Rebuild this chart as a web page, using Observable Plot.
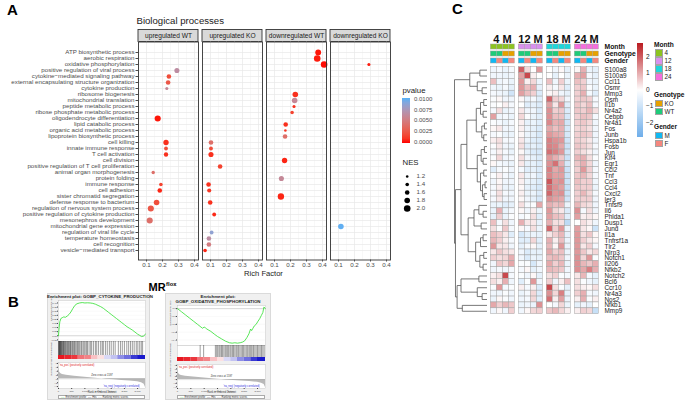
<!DOCTYPE html>
<html><head><meta charset="utf-8">
<script src="https://cdn.jsdelivr.net/npm/d3@7"></script>
<script src="https://cdn.jsdelivr.net/npm/@observablehq/plot@0.6"></script>
<style>
body{margin:0;background:#fff;font-family:'Liberation Sans',Arial,Helvetica,sans-serif;}
#root{position:relative;width:685px;height:402px;overflow:hidden;background:#fff;}
.abs{position:absolute;line-height:1;white-space:nowrap;}
.abs svg{display:block;}
</style></head><body><div id="root"></div><script>
// ================= DATA =================
// ---- Panel A: GO biological processes (facets, terms, points) ----
const facetGroups = ["upregulated WT","upregulated KO","downregulated WT","downregulated KO"];
const processTerms = ["ATP biosynthetic process","aerobic respiration","oxidative phosphorylation","positive regulation of viral process","cytokine−mediated signaling pathway","external encapsulating structure organization","cytokine production","ribosome biogenesis","mitochondrial translation","peptide metabolic process","ribose phosphate metabolic process","oligodendrocyte differentiation","lipid catabolic process","organic acid metabolic process","lipoprotein biosynthetic process","cell killing","innate immune response","T cell activation","cell division","positive regulation of T cell proliferation","animal organ morphogenesis","protein folding","immune response","cell adhesion","sister chromatid segregation","defense response to bacterium","regulation of nervous system process","positive regulation of cytokine production","mesonephros development","mitochondrial gene expression","regulation of viral life cycle","temperature homeostasis","cell recognition","vesicle−mediated transport"];
const richTicks = [0.1, 0.2, 0.3, 0.4];
const richMinorTicks = [0.05, 0.15, 0.25, 0.35];

const upWT_terms = ["positive regulation of viral process","cytokine−mediated signaling pathway","external encapsulating structure organization","cytokine production","oligodendrocyte differentiation","cell killing","innate immune response","T cell activation","animal organ morphogenesis","immune response","cell adhesion","defense response to bacterium","regulation of nervous system process","mesonephros development"];
const upWT_rich = [0.29,0.24,0.235,0.227,0.17,0.222,0.222,0.222,0.142,0.19,0.183,0.163,0.127,0.12];
const upWT_nes  = [1.7,1.6,1.6,1.3,1.9,1.75,1.45,1.55,1.35,1.4,1.6,1.8,1.9,1.9];
const upWT_p    = [0.0065,0.002,0.0025,0.006,0.0002,0.0008,0.002,0.0008,0.004,0.0015,0.0005,0.002,0.0025,0.004];

const upKO_terms = ["cell killing","innate immune response","T cell activation","positive regulation of T cell proliferation","immune response","cell adhesion","defense response to bacterium","positive regulation of cytokine production","regulation of viral life cycle","temperature homeostasis","cell recognition","vesicle−mediated transport"];
const upKO_rich = [0.103,0.103,0.103,0.16,0.088,0.092,0.098,0.123,0.107,0.09,0.09,0.066];
const upKO_nes  = [1.6,1.45,1.7,1.6,1.6,1.5,1.6,1.45,1.45,1.6,1.6,1.4];
const upKO_p    = [0.004,0.002,0.0008,0.0015,0.0008,0.001,0.0008,0.0006,0.0085,0.0065,0.005,0.0005];

const downWT_terms = ["ATP biosynthetic process","aerobic respiration","oxidative phosphorylation","ribosome biogenesis","mitochondrial translation","peptide metabolic process","ribose phosphate metabolic process","lipid catabolic process","organic acid metabolic process","lipoprotein biosynthetic process","cell division","protein folding","sister chromatid segregation"];
const downWT_rich = [0.373,0.367,0.41,0.23,0.226,0.222,0.21,0.17,0.168,0.166,0.163,0.143,0.14];
const downWT_nes  = [1.85,2.0,2.0,1.8,1.8,1.3,1.4,1.6,1.15,1.6,1.75,1.7,1.95];
const downWT_p    = [0.0002,0.0003,0.0001,0.0008,0.006,0.0008,0.0015,0.0008,0.001,0.004,0.0005,0.006,0.0005];

const downKO_terms = ["oxidative phosphorylation","mitochondrial gene expression"];
const downKO_rich = [0.29,0.115];
const downKO_nes  = [1.3,1.8];
const downKO_p    = [0.0003,0.0098];

const pLegendTicks = [0.01, 0.0075, 0.005, 0.0025, 0];
const nesLegendValues = [1.2, 1.4, 1.6, 1.8, 2.0];

// ---- Panel B: GSEA enrichment plots ----
const gseaRankMax = 3300;
const rankTicks = [0, 500, 1000, 1500, 2000, 2500, 3000];
const cytoRank = [0,25,50,90,140,200,260,330,400,470,540,620,700,800,900,1000,1100,1200,1300,1400,1500,1600,1700,1800,1900,2000,2100,2200,2300,2400,2500,2600,2700,2800,2900,3000,3080,3150,3220,3300];
const cytoES   = [0,0.10,0.17,0.21,0.22,0.23,0.225,0.24,0.26,0.29,0.33,0.37,0.39,0.40,0.405,0.40,0.402,0.40,0.395,0.385,0.37,0.355,0.335,0.31,0.285,0.26,0.235,0.21,0.185,0.16,0.135,0.11,0.09,0.07,0.045,0.02,0.005,-0.01,-0.005,0.02];
const cytoHits = [5,18,30,45,60,72,90,110,125,150,175,190,215,240,260,290,320,350,370,400,430,455,480,520,545,580,610,640,690,720,760,800,850,880,930,970,1010,1060,1100,1160,1220,1260,1330,1400,1450,1520,1600,1660,1700,1780,1850,1930,2000,2080,2150,2270,2350,2420,2500,2590,2660,2730,2800,2870,2950,3010,3080,3140,3190];
const cytoEsTicks = [-0.05,0,0.05,0.1,0.15,0.2,0.25,0.3,0.35,0.4];
const oxRank = [0,150,300,450,600,750,880,940,1000,1050,1100,1250,1400,1500,1650,1800,1950,2050,2150,2250,2350,2450,2520,2600,2680,2740,2780,2830,2880,2950,3020,3080,3140,3200,3240,3300];
const oxES   = [0,-0.04,-0.08,-0.12,-0.16,-0.20,-0.235,-0.25,-0.235,-0.245,-0.26,-0.29,-0.33,-0.355,-0.385,-0.415,-0.435,-0.44,-0.435,-0.44,-0.435,-0.425,-0.41,-0.37,-0.32,-0.26,-0.28,-0.25,-0.22,-0.2,-0.16,-0.13,-0.09,-0.05,0.02,0.0];
const oxHits = [850,980,1420,1470,1510,1560,1600,1650,1690,1740,1790,1830,1880,1920,1970,2010,2060,2100,2150,2200,2240,2290,2340,2390,2440,2480,2530,2580,2630,2680,2720,2760,2800,2850,2900,2950,3000,3050,3100,3150,3200,3250];
const oxEsTicks = [0,-0.1,-0.2,-0.3,-0.4];
const metricRank  = [0,15,40,80,150,300,600,900,1200,1500,1650,1800,2100,2400,2700,3000,3150,3250,3300];
const metricValue = [7.5,5,3.6,2.8,2.3,1.9,1.4,1.0,0.6,0.2,0,-0.2,-0.5,-0.8,-1.1,-1.5,-2.0,-2.8,-4.5];
const barStart  = [0,250,500,750,1000,1250,1500,1750,2000,2250,2500,2750,3000];
const barMetric = [3,2.8,2.6,1.8,1.6,0.8,0.4,-0.5,-0.8,-1.5,-1.9,-2.6,-3];

// ---- Panel C: heatmap ----
const months = ["4","12","18","24"];
const sampleGenotype = ["WT","WT","KO","KO"];
const sampleGender = ["M","F","M","F"];
const annotRows = ["Month","Genotype","Gender"];
const genes = ["S100a8","S100a9","Ccl11","Osmr","Mmp3","Osm","Il1b","Nr4a2","Cebpb","Nr4a1","Fos","Junb","Hspa1b","Fosb","Jun","Klf4","Egr1","Ccl2","Tnf","Ccl3","Ccl4","Cxcl2","Ier3","Tnfsf9","Il6","Phlda1","Dusp1","Jund","Il1a","Tnfrsf1a","Tlr2","Nlrp3","Notch1","Il206","Nfkb2","Notch2","Bcl6","Ccr10","Nr4a3","Nos2","Nfkb1","Mmp9"];
const expr4M = [[-0.3,-0.2,-0.4,-0.2],[-0.3,-0.3,-0.4,-0.3],[0.8,-0.3,-0.2,-0.4],[-0.3,-0.4,-0.2,-0.5],[-0.2,-0.3,-0.4,-0.9],[-0.1,0.1,-0.3,-0.3],[-0.1,0.0,0.2,-0.2],[-0.2,0.4,-0.4,-0.3],[1.2,-0.3,-0.2,-0.4],[-0.1,-0.2,-0.4,-0.2],[0.1,0.3,-0.3,-0.3],[-0.2,-0.1,-0.4,-0.4],[0.2,0.4,-0.2,-0.2],[-0.1,0.3,-0.3,-0.4],[-0.2,0.2,-0.2,-0.4],[-0.1,0.5,-0.3,-0.2],[0.1,-0.2,-0.3,-0.4],[-0.6,-0.2,-0.1,-0.3],[-0.1,0.2,-0.2,-0.4],[-0.3,0.1,-0.3,-0.3],[-0.2,0.2,-0.4,-0.4],[-0.2,0.4,-0.2,-0.3],[-0.2,0.3,-0.3,-0.3],[-0.4,-0.4,-0.6,-0.5],[-0.4,1.0,-0.4,-0.2],[-0.5,0.6,-0.4,-0.1],[0.8,-0.2,0.4,-0.3],[0.4,-0.1,0.7,-0.2],[0.8,0.6,0.3,-0.6],[0.9,0.6,0.2,-0.2],[1.3,0.3,0.3,-0.3],[0.3,0.7,0.4,0.3],[0.6,0.4,0.5,1.0],[-0.3,0.7,0.5,1.1],[-0.3,-0.2,-0.3,-0.2],[0.2,0.4,2.3,-0.2],[0.4,0.2,1.0,-0.3],[-0.1,1.3,-0.2,-0.1],[-0.3,-0.3,-0.1,-0.3],[-0.4,0.1,-0.1,-0.3],[1.1,0.6,0.9,0.7],[-0.3,0.1,-0.3,0.6]];
const expr12M = [[2.0,0.5,0.0,1.3],[1.2,2.3,0.2,0.0],[1.3,0.2,0.5,-0.4],[1.3,0.8,1.0,-0.5],[1.2,0.8,0.6,-0.7],[0.1,-0.4,-0.2,-0.6],[0.0,-0.6,-0.5,-0.7],[0.3,-0.3,-0.3,-0.7],[0.5,-0.1,-0.4,-0.6],[0.2,-0.5,-0.4,-0.6],[0.2,-0.4,-0.5,-0.7],[0.1,-0.4,-0.5,-0.8],[0.3,-0.4,-0.6,-0.7],[0.4,-0.6,-0.5,-0.7],[0.1,-0.5,-0.7,-0.8],[0.4,-0.3,-0.5,-0.7],[0.3,-0.5,-0.5,-0.7],[-0.2,-0.6,-0.5,-0.7],[0.3,-0.4,-0.3,-0.7],[0.2,-0.4,-0.5,-0.7],[0.1,-0.5,-0.6,-0.8],[0.2,-0.4,-0.4,-0.7],[0.1,-0.3,-0.5,-0.8],[0.4,-0.2,-0.1,1.1],[0.1,-0.3,0.2,-0.4],[-0.2,-0.1,0.4,-0.6],[1.0,0.3,0.3,-0.5],[0.1,-0.2,0.4,-0.4],[-0.8,-0.5,-0.4,-0.5],[-0.6,-0.6,0.5,-0.6],[-0.5,-0.2,0.1,-0.5],[-0.3,-0.7,-0.5,-0.5],[-0.3,-0.7,-0.4,-0.5],[-0.1,-0.1,-0.8,-0.3],[-0.2,0.1,-0.5,-0.3],[-0.1,-0.3,0.1,-0.5],[-0.6,-0.1,1.3,-0.3],[0.2,-0.2,0.2,-0.7],[-0.4,-0.2,0.5,-0.7],[-0.3,-0.2,0.5,-0.6],[-0.4,-0.3,-0.4,1.4],[-0.3,0.1,0.5,0.6]];
const expr18M = [[0.0,-0.3,0.1,-0.5],[0.0,-0.5,0.0,-0.4],[0.8,-0.3,0.6,-0.4],[0.2,-0.2,0.3,-0.6],[0.1,0.2,-0.3,-0.5],[1.9,0.6,0.5,-0.3],[1.2,0.3,1.3,-0.6],[1.4,0.6,0.7,-0.7],[1.4,0.8,0.8,-0.8],[1.5,1.0,1.1,-0.9],[1.1,0.8,1.0,-0.8],[1.3,1.1,1.0,-0.8],[1.6,1.4,1.3,-0.9],[1.6,1.5,1.1,-1.0],[1.8,1.6,1.3,-0.9],[1.3,1.0,0.7,-1.0],[1.4,1.8,1.0,-0.8],[1.6,1.1,1.3,-1.0],[1.5,1.2,1.2,-1.0],[2.1,1.3,1.4,-1.0],[1.8,1.4,1.2,-1.1],[1.9,1.3,1.4,-1.0],[1.4,1.2,1.1,-0.9],[1.0,0.8,0.9,-0.4],[1.3,0.5,0.3,-0.7],[1.2,0.8,0.7,-0.6],[1.0,0.4,0.4,-1.3],[1.9,0.6,1.3,-0.4],[0.3,0.6,0.9,-0.5],[1.0,0.2,0.8,-0.4],[0.9,0.1,1.3,-0.4],[1.1,0.6,0.8,-0.4],[0.8,0.9,0.7,-0.3],[1.1,0.6,0.9,-0.4],[0.9,0.8,0.7,-0.3],[0.4,0.6,-0.1,-0.2],[0.6,-0.3,0.2,0.8],[2.3,0.4,-0.1,-0.5],[1.4,0.5,1.6,-0.5],[1.8,0.2,1.2,-0.4],[0.0,-0.2,0.5,-0.4],[0.7,0.9,0.5,0.2]];
const expr24M = [[0.1,1.0,-0.4,-0.5],[1.0,1.2,-0.2,-0.5],[0.8,0.6,-0.3,-0.4],[0.6,0.7,-0.1,-0.4],[0.6,1.0,-0.2,-0.6],[0.6,0.7,0.6,-0.2],[0.7,0.5,0.8,-0.2],[0.7,0.6,0.9,0.4],[0.6,0.8,0.7,-0.2],[0.6,0.7,0.5,-0.3],[0.5,0.6,0.4,-0.3],[0.6,0.7,0.6,-0.3],[0.6,0.5,0.3,-0.3],[0.7,0.6,0.4,-0.2],[0.6,0.4,0.2,-0.3],[0.9,1.0,0.4,-0.1],[0.7,1.0,0.5,-0.3],[0.6,1.3,0.6,-0.2],[0.7,0.9,0.5,-0.2],[0.8,0.6,0.6,-0.3],[0.7,0.6,0.6,-0.4],[0.6,0.9,0.5,-0.2],[0.6,0.6,0.6,-0.3],[0.9,0.5,0.4,-0.3],[1.4,-0.2,0.4,-0.3],[1.2,0.2,0.3,0.1],[0.0,0.4,0.2,-0.3],[1.2,0.3,0.1,-1.0],[1.3,0.4,0.7,0.1],[1.3,0.6,0.3,0.1],[1.3,0.3,0.6,-0.2],[1.3,0.7,0.3,0.5],[1.4,0.5,1.3,-0.1],[1.4,0.9,0.7,1.0],[1.4,1.1,1.6,1.0],[0.3,0.9,-0.2,-0.5],[0.4,-0.1,-0.3,-0.5],[0.4,0.2,0.1,0.4],[0.6,1.0,-0.2,-0.3],[0.2,1.0,-0.1,0.2],[-0.5,-0.3,-0.5,0.0],[0.2,0.6,0.5,-1.1]];
// dendrogram: [mergeHeight, left, right]
const geneTree = [1.0,
  [0.53,[0.22,"S100a8","S100a9"],[0.3,"Ccl11",[0.15,"Osmr","Mmp3"]]],
  [0.97,
    [0.8,
      [0.62,
        [0.33,[0.2,[0.1,"Osm","Il1b"],[0.12,"Nr4a2","Cebpb"]],[0.16,[0.08,"Nr4a1","Fos"],[0.1,"Junb","Hspa1b"]]],
        [0.3,[0.18,[0.08,"Fosb","Jun"],[0.12,"Klf4","Egr1"]],[0.2,[0.1,"Ccl2","Tnf"],[0.14,[0.06,"Ccl3","Ccl4"],[0.09,"Cxcl2","Ier3"]]]]],
      [0.58,
        [0.4,[0.25,"Tnfsf9",[0.12,"Il6","Phlda1"]],[0.18,"Dusp1","Jund"]],
        [0.35,[0.2,[0.12,"Il1a","Tnfrsf1a"],"Tlr2"],[0.22,[0.1,"Nlrp3","Notch1"],[0.12,"Il206","Nfkb2"]]]]],
    [0.92,
      [0.8,[0.25,"Notch2","Bcl6"],[0.3,"Ccr10",[0.15,"Nr4a3","Nos2"]]],
      [0.76,"Nfkb1","Mmp9"]]]];
const heatLegendTicks = [2, 1, 0, -1, -2];

// ================= STYLE / HELPERS =================
const FONT = "'Liberation Sans', Arial, Helvetica, sans-serif";
const baseStyle = {background: "transparent", overflow: "visible", fontFamily: FONT, maxWidth: "none"};
const root = document.getElementById("root");
function place(node, left, top) {
  const d = document.createElement("div");
  d.className = "abs"; d.style.left = left + "px"; d.style.top = top + "px";
  d.append(node); root.append(d); return d;
}
function label(text, left, top, css) {
  const d = document.createElement("div");
  d.className = "abs"; d.textContent = text;
  d.style.left = left + "px"; d.style.top = top + "px";
  Object.assign(d.style, css || {});
  root.append(d); return d;
}
function box(left, top, w, h, css) {
  const d = document.createElement("div");
  d.className = "abs";
  Object.assign(d.style, {left: left + "px", top: top + "px", width: w + "px", height: h + "px", boxSizing: "border-box"}, css || {});
  root.append(d); return d;
}

// ================= PANEL A =================
const dots = [];
function addFacet(group, terms, rich, nes, p) {
  terms.forEach((t, i) => dots.push({group, term: t, rich: rich[i], nes: nes[i], p: p[i]}));
}
addFacet(facetGroups[0], upWT_terms, upWT_rich, upWT_nes, upWT_p);
addFacet(facetGroups[1], upKO_terms, upKO_rich, upKO_nes, upKO_p);
addFacet(facetGroups[2], downWT_terms, downWT_rich, downWT_nes, downWT_p);
addFacet(facetGroups[3], downKO_terms, downKO_rich, downKO_nes, downKO_p);

const pLow = "#FF0000", pHigh = "#56B1F7";
const rScale = {type: "linear", domain: [1.2, 2.0], range: [1.3, 3.3], clamp: true};

label("A", 7, 2, {fontSize: "15px", fontWeight: "bold"});
label("Biological processes", 136.5, 15.5, {fontSize: "9.6px", color: "#1a1a1a"});

const stripPlot = Plot.plot({
  width: 400, height: 41.5, marginTop: 29.5, marginBottom: 0, marginLeft: 137, marginRight: 10,
  style: baseStyle,
  x: {type: "band", domain: facetGroups, paddingInner: 0.0625, paddingOuter: 0, axis: null},
  marks: [
    Plot.cell(facetGroups, {x: d => d, fill: "#D9D9D9", stroke: "#333", strokeWidth: 0.9}),
    Plot.text(facetGroups, {x: d => d, text: d => d, fontSize: 6.6, fill: "#1A1A1A"})
  ]
});
place(stripPlot, 0, 0);

const plotA = Plot.plot({
  width: 400, height: 280, marginTop: 41.5, marginBottom: 20.5, marginLeft: 137, marginRight: 10,
  style: baseStyle,
  fx: {domain: facetGroups, paddingInner: 0.0625, paddingOuter: 0, axis: null, label: null},
  x: {domain: [0.05, 0.425]},
  y: {domain: processTerms, padding: 0},
  r: rScale,
  color: {type: "linear", domain: [0, 0.01], range: [pLow, pHigh], interpolate: d3.interpolateLab},
  marks: [
    Plot.ruleX(richMinorTicks, {stroke: "#F3F3F3", strokeWidth: 0.6}),
    Plot.ruleX(richTicks, {stroke: "#E8E8E8", strokeWidth: 0.7}),
    Plot.ruleY(processTerms, {y: d => d, stroke: "#E8E8E8", strokeWidth: 0.7}),
    Plot.dot(dots, {fx: "group", x: "rich", y: "term", r: "nes", fill: "p"}),
    Plot.frame({stroke: "#333", strokeWidth: 0.9}),
    Plot.axisX({ticks: richTicks, tickFormat: d3.format(".1f"), tickSize: 2, tickPadding: 1, fontSize: 6.2, color: "#4D4D4D", label: null}),
    Plot.axisY({tickSize: 2.5, tickPadding: 1.5, fontSize: 6.2, color: "#4D4D4D", label: null})
  ]
});
place(plotA, 0, 0);
label("Rich Factor", 213.5, 269.5, {width: "100px", textAlign: "center", fontSize: "7.6px", color: "#1a1a1a"});

// legend: pvalue colourbar
label("pvalue", 402.5, 86.5, {fontSize: "7.8px", color: "#1a1a1a"});
{
  const interp = d3.interpolateLab(pLow, pHigh);
  const stops = d3.range(0, 1.0001, 0.1).map(t => `${interp(1 - t)} ${(t * 100).toFixed(0)}%`).join(",");
  box(402, 97.7, 8, 45, {background: `linear-gradient(to bottom, ${stops})`});
  pLegendTicks.forEach(v => {
    const y = 142 - v / 0.01 * 43.3;
    label(d3.format(".4f")(v), 414, y - 3, {fontSize: "6px", color: "#4D4D4D"});
  });
}
label("NES", 402.5, 159, {fontSize: "7.8px", color: "#1a1a1a"});
const nesLegend = Plot.plot({
  width: 40, height: 48, marginTop: 2.3, marginBottom: 1.6, marginLeft: 0, marginRight: 0,
  style: baseStyle,
  y: {type: "band", domain: nesLegendValues, padding: 0, axis: null},
  r: rScale,
  marks: [
    Plot.dot(nesLegendValues, {y: d => d, r: d => d, fill: "black", frameAnchor: "left", dx: 6.7}),
    Plot.text(nesLegendValues, {y: d => d, text: d => d.toFixed(1), frameAnchor: "left", dx: 16, textAnchor: "start", fontSize: 6.2, fill: "#4D4D4D"})
  ]
});
place(nesLegend, 400, 168);

// ================= PANEL B =================
label("B", 8, 294, {fontSize: "15px", fontWeight: "bold"});
{
  const d = label("MR", 148.5, 281.5, {fontSize: "11px", fontWeight: "bold"});
  const s = document.createElement("span");
  s.textContent = "flox";
  Object.assign(s.style, {fontSize: "5.8px", verticalAlign: "5px", marginLeft: "0.5px"});
  d.append(s);
}
const barColor = {type: "linear", domain: [-3, 0, 3], range: ["#1A1ACC", "#FFFFFF", "#E81820"]};
const barBins = barStart.map((s, i) => ({x1: s, x2: i + 1 < barStart.length ? barStart[i + 1] : gseaRankMax, m: barMetric[i]}));
const metricData = metricRank.map((r, i) => ({r, m: metricValue[i]}));

function drawGsea(c) {
  box(c.L, c.T, c.W, c.H, {background: "#F0F0F0", border: "0.5px solid #DADADA"});
  c.title.forEach((t, k) => label(t, c.L, c.titleY[k], {width: c.W + "px", textAlign: "center", fontSize: "4.4px", fontWeight: "bold", color: "#222"}));
  const mL = c.x0 - c.L, mR = c.L + c.W - c.x1;
  const esData = c.rank.map((r, i) => ({r, es: c.es[i]}));
  const esPlot = Plot.plot({
    width: c.W, height: c.esY1 - c.T, marginTop: c.esY0 - c.T, marginBottom: 0, marginLeft: mL, marginRight: mR,
    style: baseStyle,
    x: {domain: [0, gseaRankMax], axis: null},
    y: {domain: c.esDomain},
    marks: [
      Plot.frame({fill: "white", stroke: "#BBBBBB", strokeWidth: 0.4}),
      Plot.ruleY(c.esTicks, {stroke: "#ECECEC", strokeWidth: 0.3}),
      Plot.ruleY([0], {stroke: "#999", strokeWidth: 0.35}),
      Plot.line(esData, {x: "r", y: "es", stroke: "#2FE02F", strokeWidth: 0.8}),
      Plot.axisY({ticks: c.esTicks, tickFormat: d3.format(c.esFormat), tickSize: 1, tickPadding: 0.5, fontSize: 2.5, color: "#444", label: null}),
      Plot.text(["Enrichment score (ES)"], {text: d => d, frameAnchor: "left", rotate: -90, dx: -7.5, fontSize: 2.5, fill: "#444"})
    ]
  });
  place(esPlot, c.L, c.T);
  const hitsPlot = Plot.plot({
    width: c.W, height: c.hitsY1 - c.esY1, marginTop: 0, marginBottom: 0, marginLeft: mL, marginRight: mR,
    style: baseStyle,
    x: {domain: [0, gseaRankMax], axis: null},
    marks: [
      Plot.frame({fill: "white", stroke: "#BBBBBB", strokeWidth: 0.4}),
      Plot.ruleX(c.hits, {x: d => d, stroke: "black", strokeWidth: 0.45, strokeOpacity: 0.85})
    ]
  });
  place(hitsPlot, c.L, c.esY1);
  const barPlot = Plot.plot({
    width: c.W, height: c.barY1 - c.hitsY1, marginTop: 0, marginBottom: 0, marginLeft: mL, marginRight: mR,
    style: baseStyle,
    x: {domain: [0, gseaRankMax], axis: null},
    color: barColor,
    marks: [Plot.rect(barBins, {x1: "x1", x2: "x2", fill: "m"})]
  });
  place(barPlot, c.L, c.hitsY1);
  const mPlot = Plot.plot({
    width: c.W, height: c.metricY1 - c.barY1 + 6, marginTop: c.metricY0 - c.barY1, marginBottom: 6, marginLeft: mL, marginRight: mR,
    style: baseStyle,
    x: {domain: [0, gseaRankMax]},
    y: {domain: [-5, 8.5]},
    marks: [
      Plot.frame({fill: "white", stroke: "#BBBBBB", strokeWidth: 0.4}),
      Plot.areaY(metricData, {x: "r", y: "m", fill: "#B8B8B8"}),
      Plot.ruleY([0], {stroke: "#999", strokeWidth: 0.3}),
      Plot.axisX({ticks: rankTicks, tickFormat: d3.format(","), tickSize: 1, tickPadding: 0.5, fontSize: 2.4, color: "#444", label: null}),
      Plot.axisY({ticks: [-4, -2, 0, 2, 4, 6, 8], tickSize: 1, tickPadding: 0.5, fontSize: 2.4, color: "#444", label: null}),
      Plot.text(["'na_pos' (positively correlated)"], {text: d => d, frameAnchor: "top-left", dx: 1, dy: 1.5, fontSize: 2.6, fill: "#E02020"}),
      Plot.text(["Zero cross at 1597"], {text: d => d, frameAnchor: "middle", fontSize: 2.6, fill: "#333"}),
      Plot.text(["'na_neg' (negatively correlated)"], {text: d => d, frameAnchor: "bottom-right", dx: -6, dy: -2, fontSize: 2.6, fill: "#3030E0"}),
      Plot.text(["Rank in Ordered Dataset"], {text: d => d, frameAnchor: "bottom", dy: 4.8, fontSize: 2.6, fill: "#333"}),
      Plot.text(["Ranked list metric (PreRanked)"], {text: d => d, frameAnchor: "left", rotate: -90, dx: -7, fontSize: 2.4, fill: "#444"})
    ]
  });
  place(mPlot, c.L, c.barY1);
  const lg = box(c.x0, c.metricY1 + 7, c.x1 - c.x0, 4.2, {background: "white", border: "0.4px solid #AAA", fontSize: "2.6px", lineHeight: "3.6px", paddingLeft: "2px", color: "#333"});
  lg.innerHTML = '<span style="color:#2FE02F">&#9472;&#9472;</span> Enrichment profile &nbsp;<span style="color:#000">&#9472;&#9472;</span> Hits &nbsp;<span style="color:#999">&#9472;&#9472;</span> Ranking metric scores';
}
drawGsea({L: 47, T: 293, W: 103, H: 107, title: ["Enrichment plot: GOBP_CYTOKINE_PRODUCTION"], titleY: [295.2],
  x0: 58, x1: 145, esY0: 300, esY1: 341, hitsY1: 355, barY1: 359, metricY0: 362, metricY1: 388,
  rank: cytoRank, es: cytoES, hits: cytoHits, esDomain: [-0.07, 0.43], esTicks: cytoEsTicks, esFormat: ".2f"});
drawGsea({L: 165, T: 293, W: 106, H: 107, title: ["Enrichment plot:", "GOBP_OXIDATIVE_PHOSPHORYLATION"], titleY: [294.5, 299.8],
  x0: 177, x1: 265, esY0: 305, esY1: 345, hitsY1: 357, barY1: 361, metricY0: 364, metricY1: 388,
  rank: oxRank, es: oxES, hits: oxHits, esDomain: [-0.47, 0.04], esTicks: oxEsTicks, esFormat: ".1f"});

// ================= PANEL C =================
label("C", 452, 1, {fontSize: "15px", fontWeight: "bold"});
const monthColors = {"4": "#8CC320", "12": "#D990EE", "18": "#1DD6DA", "24": "#F56EDD"};
const genotypeColors = {"KO": "#E6A100", "WT": "#1ECB7A"};
const genderColors = {"M": "#10B8F2", "F": "#F5877E"};
const heatDomain = [-2.85, 0, 2.88];
const heatRange = ["#6EAEEA", "#FFFFFF", "#BA1A20"];
const cellStroke = "#A3A3A3";
const fxHeat = {domain: months, paddingInner: 0.084, paddingOuter: 0, axis: null, label: null};

const annotCells = [];
months.forEach(m => [0, 1, 2, 3].forEach(i => {
  annotCells.push({m, i, row: "Month", color: monthColors[m]});
  annotCells.push({m, i, row: "Genotype", color: genotypeColors[sampleGenotype[i]]});
  annotCells.push({m, i, row: "Gender", color: genderColors[sampleGender[i]]});
}));
const annotPlot = Plot.plot({
  width: 245, height: 65.3, marginTop: 41.8, marginBottom: 0, marginLeft: 47.7, marginRight: 85,
  style: baseStyle,
  fx: fxHeat,
  x: {type: "band", domain: [0, 1, 2, 3], padding: 0, axis: null},
  y: {domain: annotRows, paddingInner: 0.22, paddingOuter: 0.11},
  marks: [
    Plot.cell(annotCells, {fx: "m", x: "i", y: "row", fill: "color", stroke: cellStroke, strokeWidth: 0.5}),
    Plot.text(months, {fx: d => d, text: d => d + " M", frameAnchor: "top", dy: -7.5, fontSize: 11, fontWeight: "bold", fill: "#111"}),
    Plot.axisY({anchor: "right", tickSize: 0, tickPadding: 5, fontSize: 6.8, fontWeight: "bold", color: "#111", label: null})
  ]
});
place(annotPlot, 440, 0);

const heatCells = [];
[expr4M, expr12M, expr18M, expr24M].forEach((arr, k) => arr.forEach((row, g) => row.forEach((v, i) => heatCells.push({m: months[k], i, gene: genes[g], v}))));
const heatPlot = Plot.plot({
  width: 245, height: 318, marginTop: 66.7, marginBottom: 4.3, marginLeft: 47.7, marginRight: 85,
  style: baseStyle,
  fx: fxHeat,
  x: {type: "band", domain: [0, 1, 2, 3], padding: 0, axis: null},
  y: {domain: genes, padding: 0},
  color: {type: "linear", domain: heatDomain, range: heatRange},
  marks: [
    Plot.cell(heatCells, {fx: "m", x: "i", y: "gene", fill: "v", stroke: cellStroke, strokeWidth: 0.5}),
    Plot.axisY({anchor: "right", tickSize: 0, tickPadding: 5, fontSize: 6.4, color: "#222", label: null})
  ]
});
place(heatPlot, 440, 0);

// dendrogram
const dendroSegs = [];
function layoutTree(node) {
  if (typeof node === "string") return {x: 0, y: genes.indexOf(node) + 0.5};
  const h = node[0], a = layoutTree(node[1]), b = layoutTree(node[2]);
  dendroSegs.push({x1: h, y1: a.y, x2: h, y2: b.y});
  dendroSegs.push({x1: h, y1: a.y, x2: a.x, y2: a.y});
  dendroSegs.push({x1: h, y1: b.y, x2: b.x, y2: b.y});
  return {x: h, y: (a.y + b.y) / 2};
}
layoutTree(geneTree);
const dendroPlot = Plot.plot({
  width: 50, height: 318, marginTop: 66.7, marginBottom: 4.3, marginLeft: 14, marginRight: 3.5,
  style: baseStyle,
  x: {domain: [1, 0], axis: null},
  y: {domain: [genes.length, 0], axis: null},
  marks: [Plot.link(dendroSegs, {x1: "x1", y1: "y1", x2: "x2", y2: "y2", stroke: "#555", strokeWidth: 0.8})]
});
place(dendroPlot, 440, 0);

// heat colour legend
{
  const sc = d3.scaleLinear().domain(heatDomain).range(heatRange);
  const top = 42.7, bottom = 137.3;
  const vTop = 2.88, vBot = -2.85;
  const stops = d3.range(0, 1.0001, 0.05).map(t => `${sc(vTop + (vBot - vTop) * t)} ${(t * 100).toFixed(0)}%`).join(",");
  box(637.3, top, 6, bottom - top, {background: `linear-gradient(to bottom, ${stops})`});
  heatLegendTicks.forEach(v => label(v < 0 ? "−" + Math.abs(v) : String(v), 646, 90 - v * 16.5 - 3.3, {fontSize: "6.5px", color: "#222"}));
}
function catLegend(title, titleY, entries, colors, y0) {
  label(title, 654, titleY, {fontSize: "6.6px", fontWeight: "bold", color: "#111"});
  entries.forEach((e, k) => {
    const y = y0 + k * 8;
    box(655, y, 7.7, 7.3, {background: colors[e], border: "0.5px solid #A3A3A3"});
    label(e, 664.5, y + 0.6, {fontSize: "6.3px", color: "#222"});
  });
}
catLegend("Month", 42, months, monthColors, 49.3);
catLegend("Genotype", 92.4, ["KO", "WT"], genotypeColors, 100);
catLegend("Gender", 124.4, ["M", "F"], genderColors, 132);
</script></body></html>
